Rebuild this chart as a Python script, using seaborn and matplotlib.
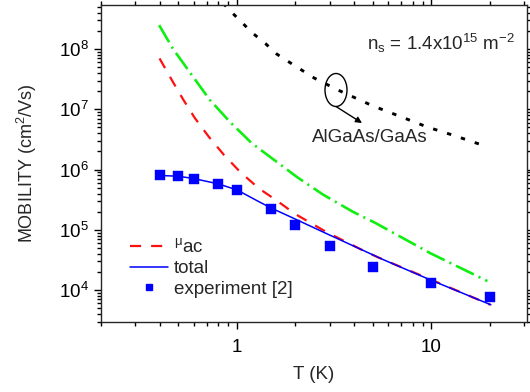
import numpy as np
import pandas as pd
import matplotlib
matplotlib.use('Agg')
import matplotlib.pyplot as plt
import seaborn as sns
from matplotlib.lines import Line2D
from matplotlib.patches import Ellipse
from matplotlib.ticker import LogLocator, FuncFormatter, NullFormatter, FixedLocator

# ---- data ----
T_exp = [0.4, 0.5, 0.6, 0.8, 1.0, 1.5, 2.0, 3.0, 5.0, 10.0, 20.0]
mu_exp = [8.0e5, 7.7e5, 7.1e5, 5.8e5, 4.6e5, 2.2e5, 1.22e5, 5.3e4, 2.4e4, 1.29e4, 7.6e3]

T_total = [0.4, 0.5, 0.6, 0.8, 1.0, 1.285, 1.5, 1.95, 2.9, 5.68, 10.0, 20.2]
mu_total = [8.0e5, 7.75e5, 7.1e5, 5.8e5, 4.6e5, 2.98e5, 2.3e5, 1.56e5, 8.6e4, 3.18e4, 1.45e4, 5.7e3]

T_ac = [0.4, 0.468, 0.531, 0.607, 0.715, 0.855, 1.04, 1.294, 1.6, 2.0, 2.9, 4.36, 5.3, 9.9, 20.1]
mu_ac = [7.0e7, 2.87e7, 1.43e7, 7.2e6, 3.54e6, 1.77e6, 9.1e5, 4.9e5, 3.06e5, 1.82e5, 9.1e4, 4.7e4, 3.5e4, 1.5e4, 5.7e3]

T_green = [0.398, 0.47, 0.595, 0.726, 0.92, 1.19, 1.57, 2.05, 2.77, 3.94, 5.15, 9.9, 19.4]
mu_green = [2.5e8, 1.0e8, 3.47e7, 1.43e7, 6.2e6, 2.75e6, 1.41e6, 7.4e5, 3.85e5, 2.0e5, 1.3e5, 4.07e4, 1.41e4]

T_bg = [0.85, 0.9, 1.04, 1.2, 1.4, 1.6, 1.9, 2.5, 3.3, 5.0, 7.0, 9.5, 13.0, 18.6]
mu_bg = [5.8e8, 4.7e8, 2.95e8, 1.86e8, 1.24e8, 8.3e7, 5.8e7, 3.3e7, 2.1e7, 1.14e7, 7.5e6, 5.1e6, 3.7e6, 2.5e6]

x_ticks = [1, 10]
x_tick_labels = ["1", "10"]

# ---- style ----
sns.set_theme(style="ticks")
plt.rcParams['font.family'] = ['Liberation Sans', 'DejaVu Sans']
plt.rcParams['mathtext.fontset'] = 'custom'
plt.rcParams['mathtext.rm'] = 'Liberation Sans'
plt.rcParams['mathtext.it'] = 'Liberation Sans:italic'
plt.rcParams['mathtext.bf'] = 'Liberation Sans:bold'
plt.rcParams['mathtext.sf'] = 'Liberation Sans'
plt.rcParams['axes.linewidth'] = 1.0

FS = 13
FSA = 13.5

fig = plt.figure(figsize=(5.3, 3.92), dpi=100)
ax = fig.add_axes([101/530, 1-322/392, (527-101)/530, (322-5)/392])

df_total = pd.DataFrame({'T': T_total, 'mu': mu_total})
df_ac = pd.DataFrame({'T': T_ac, 'mu': mu_ac})
df_green = pd.DataFrame({'T': T_green, 'mu': mu_green})
df_bg = pd.DataFrame({'T': T_bg, 'mu': mu_bg})
df_exp = pd.DataFrame({'T': T_exp, 'mu': mu_exp})

sns.lineplot(data=df_bg, x='T', y='mu', ax=ax, color='black', lw=2.1,
             estimator=None, sort=False)
ax.lines[-1].set_dashes((1.5, 3.5))
ax.lines[-1].set_dash_capstyle('butt')

sns.lineplot(data=df_green, x='T', y='mu', ax=ax, color='#11ee11', lw=1.9,
             estimator=None, sort=False)
ax.lines[-1].set_dashes((7.5, 2.0, 0.8, 2.0))

sns.lineplot(data=df_ac, x='T', y='mu', ax=ax, color='#ff1010', lw=1.6,
             estimator=None, sort=False)
ax.lines[-1].set_dashes((5.0, 4.5))

sns.lineplot(data=df_total, x='T', y='mu', ax=ax, color='#0000ff', lw=1.1,
             estimator=None, sort=False)

sns.scatterplot(data=df_exp, x='T', y='mu', ax=ax, color='#0000ff', marker='s',
                s=42, edgecolor='#0000ff', linewidth=0.3, zorder=5)

ax.set_xscale('log')
ax.set_yscale('log')
ax.set_xlim(0.2, 31)
ax.set_ylim(2.95e3, 5.4e8)

ax.xaxis.set_major_locator(FixedLocator(x_ticks))
ax.xaxis.set_major_formatter(FuncFormatter(lambda v, p: x_tick_labels[x_ticks.index(round(v))] if round(v) in x_ticks else ''))
ax.xaxis.set_minor_locator(LogLocator(base=10, subs=np.arange(2, 10), numticks=20))
ax.xaxis.set_minor_formatter(NullFormatter())
ax.yaxis.set_major_locator(LogLocator(base=10, numticks=20))
ax.yaxis.set_major_formatter(FuncFormatter(lambda v, p: r'$10^{%d}$' % int(round(np.log10(v)))))
ax.yaxis.set_minor_locator(LogLocator(base=10, subs=np.arange(2, 10), numticks=20))
ax.yaxis.set_minor_formatter(NullFormatter())

ax.tick_params(which='both', direction='out', top=True, right=True,
               labeltop=False, labelright=False, width=1.0, colors='black')
ax.tick_params(which='major', length=5, labelsize=FSA)
ax.tick_params(axis='y', which='major', pad=4)
ax.tick_params(axis='x', which='major', pad=7)
ax.tick_params(which='minor', length=3)

ax.set_xlabel('T (K)', fontsize=FSA)
ax.set_ylabel(r'MOBILITY (cm$^{2}$/Vs)', fontsize=FS)
ax.xaxis.set_label_coords(0.5, -0.14)
ax.yaxis.set_label_coords(-0.145, 0.5)

# legend
handles = [
    Line2D([], [], color='#ff1010', lw=1.6, dashes=(5.0, 4.5)),
    Line2D([], [], color='#0000ff', lw=1.1),
    Line2D([], [], color='#0000ff', lw=0, marker='s', markersize=5),
]
labels = ['$^{\\mathrm{\u03bc}}$ac', 'total', 'experiment [2]']
ax.legend(handles, labels, loc='lower left', bbox_to_anchor=((130-101)/426, (322-298)/317),
          frameon=False, fontsize=FSA, handlelength=2.0, handletextpad=0.35,
          borderpad=0, borderaxespad=0, labelspacing=0.2, numpoints=1)

# annotations
ax.text((515-101)/426, (322-43)/317, r'n$_\mathrm{s}$ = 1.4x10$^{15}$ m$^{-2}$',
        transform=ax.transAxes, ha='right', va='center', fontsize=FSA)
ax.text((370-101)/426, (322-138)/317, 'AlGaAs/GaAs', transform=ax.transAxes,
        ha='center', va='center', fontsize=FSA)
ax.add_patch(Ellipse(((336-101)/426, (322-90)/317), 22/426, 33/317,
                     transform=ax.transAxes, fill=False, ec='black', lw=1.0))
ax.annotate('', xy=((362-101)/426, (322-123)/317), xytext=((336-101)/426, (322-106.5)/317),
            xycoords='axes fraction', textcoords='axes fraction',
            arrowprops=dict(arrowstyle='-|>', color='black', lw=1.0, mutation_scale=9,
                            shrinkA=0, shrinkB=0))

fig.savefig('out.png', dpi=100)
